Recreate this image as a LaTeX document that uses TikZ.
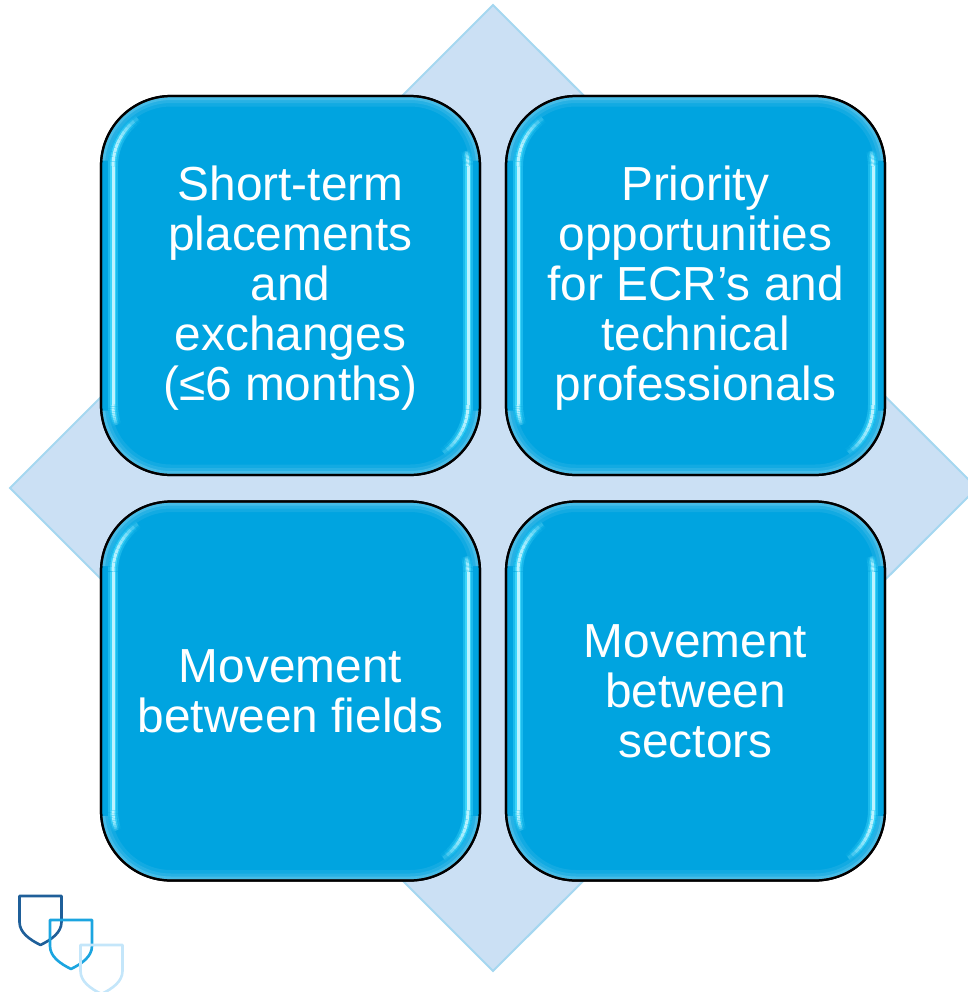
\documentclass[tikz,border=0pt]{standalone}
\usepackage{fontspec}
\setmainfont{Liberation Sans}
\usepackage{xcolor}
\definecolor{bcolor}{RGB}{0,164,224}
\definecolor{dcolor}{RGB}{203,224,244}
\definecolor{decolor}{RGB}{165,215,240}
\definecolor{gcolor}{RGB}{70,220,255}
\def\HS{189.5}  % half a box, in px
\def\CC{119.5}  % corner centre
\def\GR{58}     % radius of the glint
\newcommand{\glintpiece}[4]{%
    \draw [glint, opacity = #4]     (#1) ++(#2:\GR) arc [start angle = #2, end angle = #3, radius = \GR];
    \draw [glintmid, opacity = #4]  (#1) ++(#2:\GR) arc [start angle = #2, end angle = #3, radius = \GR];
    \draw [glintcore, opacity = #4] (#1) ++(#2:\GR) arc [start angle = #2, end angle = #3, radius = \GR];
}
\newcommand{\glintarc}[3]{%
    \foreach \i in {0,...,11}{
        \pgfmathsetmacro{\aS}{#2 + \i*(#3 - #2)/12}
        \pgfmathsetmacro{\aE}{#2 + (\i + 1)*(#3 - #2)/12}
        \pgfmathsetmacro{\oP}{1 - (\i/12)^2}
        \glintpiece{#1}{\aS}{\aE}{\oP}
    }
}
\tikzset{
    pic shield/.style = {line width = 1.5pt, fill = none, line join = round},
    shieldicon/.pic = {
        \draw [pic shield, pic actions] (-21, 0) -- (21, 0) -- (21, 26)
            .. controls (21, 37) and (10, 44) .. (0, 49)
            .. controls (-10, 44) and (-21, 37) .. (-21, 26) -- cycle;
    }
}
\begin{document}
\begin{tikzpicture}[
    x = 0.02cm, y = -0.02cm,
    tbox/.style = {rectangle, rounded corners = 1.4cm, minimum size = 7.58cm, inner sep = 0pt,
        draw = black, fill = bcolor, line width = 0.045cm},
    ttext/.style = {text = white, align = center, font = \fontsize{27.2}{28.5}\selectfont},
    leaf/.style = {fill = dcolor, draw = decolor, line width = 0.04cm, line join = miter},
    ring/.style = {white, rounded corners = 1.4cm},
    glint/.style = {gcolor!40!bcolor, line width = 0.2cm},
    glintmid/.style = {gcolor!85!bcolor, line width = 0.12cm},
    glintcore/.style = {white!65!gcolor, line width = 0.06cm}
    ]

    \clip (0, 0) rectangle (968, 992);

    \draw [leaf] (493, 5) -- (977, 488) -- (493, 971) -- (10, 488) -- cycle;

    \node (ST) at (290.5, 285.5) [tbox]{};
    \node (PO) at (695.5, 285.5) [tbox]{};
    \node (MF) at (290.5, 691)   [tbox]{};
    \node (MS) at (695.5, 691)   [tbox]{};

    \foreach \bx in {ST, PO, MF, MS}{
        \begin{scope}[shift = {(\bx.center)}]
            \begin{scope}
                \clip [rounded corners = 1.4cm] (-\HS, -\HS) rectangle (\HS, \HS);
                \clip (-\HS, -\HS) rectangle (\HS, -125) (-\HS, 125) rectangle (\HS, \HS);
                \draw [ring, opacity = .07, line width = 0.42cm] (-\HS, -\HS) rectangle (\HS, \HS);
                \draw [ring, opacity = .09, line width = 0.28cm] (-\HS, -\HS) rectangle (\HS, \HS);
                \draw [ring, opacity = .14, line width = 0.16cm] (-\HS, -\HS) rectangle (\HS, \HS);
            \end{scope}
            % left strip
            \draw [glint] (-177.5, -\CC) -- (-177.5, \CC);
            \draw [glintmid] (-177.5, -\CC) -- (-177.5, \CC);
            \draw [glintcore] (-177.5, -\CC) -- (-177.5, \CC);
            \glintarc{-\CC, -\CC}{180}{235}
            \glintarc{-\CC, \CC}{180}{160}
            % right strip
            \draw [glint] (177.5, -\CC) -- (177.5, \CC);
            \draw [glintmid] (177.5, -\CC) -- (177.5, \CC);
            \draw [glintcore] (177.5, -\CC) -- (177.5, \CC);
            \glintarc{\CC, \CC}{0}{55}
            \glintarc{\CC, -\CC}{0}{-15}
            \draw [black, line width = 0.045cm, rounded corners = 1.4cm] (-\HS, -\HS) rectangle (\HS, \HS);
        \end{scope}
    }

    \node (STt) at (ST.center) [ttext, yshift = -0.05cm]{Short-term\\placements\\and\\exchanges\\(≤6 months)};
    \node (POt) at (PO.center) [ttext, yshift = -0.05cm]{Priority\\opportunities\\for ECR’s and\\technical\\professionals};
    \node (MFt) at (MF.center) [ttext]{Movement\\between fields};
    \node (MSt) at (MS.center) [ttext]{Movement\\between\\sectors};

    \pic [draw = {rgb,255:red,31;green,95;blue,153}]    at (40.5, 896)  {shieldicon};
    \pic [draw = {rgb,255:red,27;green,165;blue,224}]   at (71, 920)    {shieldicon};
    \pic [draw = {rgb,255:red,196;green,230;blue,250}]  at (101.5, 945) {shieldicon};
\end{tikzpicture}
\end{document}
